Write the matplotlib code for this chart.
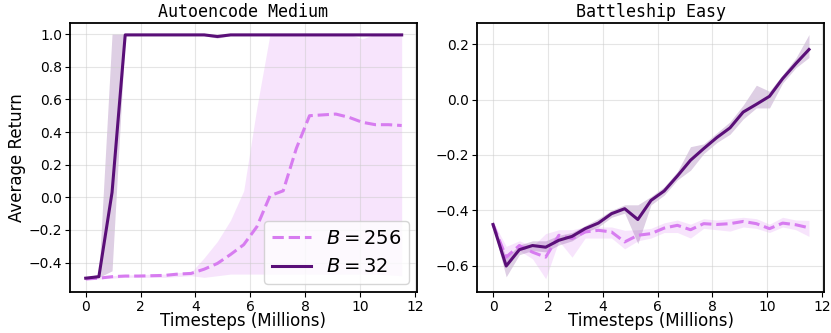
import matplotlib
matplotlib.use("Agg")
import matplotlib.pyplot as plt
import numpy as np

# Timesteps (millions)
steps = [0.0, 0.48, 0.96, 1.44, 1.92, 2.4, 2.88, 3.36, 3.84, 4.32, 4.8, 5.28,
         5.76, 6.24, 6.72, 7.2, 7.68, 8.16, 8.64, 9.12, 9.6, 10.08, 10.56, 11.04, 11.52]

# Autoencode Medium
ae_b32 = [-0.495, -0.486, 0.03, 0.995, 0.995, 0.995, 0.995, 0.995, 0.995, 0.995, 0.985, 0.995,
          0.995, 0.995, 0.995, 0.995, 0.995, 0.995, 0.995, 0.995, 0.995, 0.995, 0.995, 0.995, 0.995]
ae_b32_lo = [-0.50, -0.49, -0.45, 0.99, 0.99, 0.99, 0.99, 0.99, 0.99, 0.99, 0.975, 0.99,
             0.99, 0.99, 0.99, 0.99, 0.99, 0.99, 0.99, 0.99, 0.99, 0.99, 0.99, 0.99, 0.99]
ae_b32_hi = [-0.49, -0.47, 1.0, 1.0, 1.0, 1.0, 1.0, 1.0, 1.0, 1.0, 0.995, 1.0,
             1.0, 1.0, 1.0, 1.0, 1.0, 1.0, 1.0, 1.0, 1.0, 1.0, 1.0, 1.0, 1.0]
ae_b256 = [-0.50, -0.495, -0.486, -0.482, -0.482, -0.48, -0.478, -0.47, -0.466, -0.44, -0.405, -0.35,
           -0.29, -0.18, 0.01, 0.04, 0.30, 0.50, 0.505, 0.51, 0.49, 0.46, 0.445, 0.445, 0.44]
ae_b256_lo = [-0.505, -0.50, -0.495, -0.49, -0.49, -0.49, -0.49, -0.485, -0.48, -0.49, -0.48, -0.47,
              -0.47, -0.47, -0.47, -0.47, -0.47, -0.47, -0.47, -0.47, -0.47, -0.47, -0.47, -0.475, -0.48]
ae_b256_hi = [-0.495, -0.49, -0.48, -0.475, -0.475, -0.47, -0.47, -0.46, -0.46, -0.37, -0.27, -0.14,
              0.04, 0.55, 1.0, 1.0, 1.0, 1.0, 1.0, 1.0, 1.0, 0.97, 1.0, 1.0, 1.0]

# Battleship Easy
bs_b32 = [-0.451, -0.601, -0.542, -0.527, -0.533, -0.508, -0.494, -0.466, -0.446, -0.412, -0.394, -0.433,
          -0.364, -0.330, -0.276, -0.219, -0.177, -0.137, -0.102, -0.045, -0.017, 0.012, 0.076, 0.130, 0.181]
bs_b32_lo = [-0.46, -0.64, -0.56, -0.545, -0.55, -0.525, -0.51, -0.48, -0.46, -0.425, -0.41, -0.52,
             -0.38, -0.345, -0.29, -0.255, -0.195, -0.155, -0.125, -0.07, -0.03, -0.03, 0.06, 0.115, 0.152]
bs_b32_hi = [-0.44, -0.57, -0.525, -0.51, -0.51, -0.49, -0.48, -0.455, -0.43, -0.40, -0.38, -0.38,
             -0.35, -0.315, -0.26, -0.17, -0.16, -0.12, -0.08, -0.02, 0.052, 0.03, 0.09, 0.15, 0.235]
bs_b256 = [-0.451, -0.569, -0.527, -0.551, -0.569, -0.49, -0.502, -0.478, -0.472, -0.478, -0.514, -0.49,
           -0.484, -0.464, -0.454, -0.47, -0.448, -0.451, -0.448, -0.44, -0.448, -0.466, -0.446, -0.452, -0.463]
bs_b256_lo = [-0.46, -0.60, -0.545, -0.575, -0.647, -0.51, -0.569, -0.50, -0.50, -0.50, -0.539, -0.51,
              -0.50, -0.48, -0.48, -0.50, -0.465, -0.47, -0.475, -0.46, -0.465, -0.48, -0.46, -0.47, -0.494]
bs_b256_hi = [-0.44, -0.53, -0.51, -0.53, -0.484, -0.47, -0.47, -0.46, -0.46, -0.46, -0.472, -0.47,
              -0.465, -0.445, -0.435, -0.45, -0.43, -0.435, -0.43, -0.425, -0.43, -0.45, -0.425, -0.435, -0.436]

dark = "#5a0f78"
light = "#d77cf0"

fig, axes = plt.subplots(1, 2, figsize=(8.31, 3.33), dpi=100)
fig.subplots_adjust(left=0.084, right=0.992, top=0.932, bottom=0.123, wspace=0.173)

panels = [
    ("Autoencode Medium", ae_b256, ae_b256_lo, ae_b256_hi, ae_b32, ae_b32_lo, ae_b32_hi, (-0.58, 1.07)),
    ("Battleship Easy", bs_b256, bs_b256_lo, bs_b256_hi, bs_b32, bs_b32_lo, bs_b32_hi, (-0.695, 0.278)),
]

for ax, (title, m256, lo256, hi256, m32, lo32, hi32, ylim) in zip(axes, panels):
    ax.fill_between(steps, lo256, hi256, color=light, alpha=0.2, linewidth=0)
    ax.fill_between(steps, lo32, hi32, color=dark, alpha=0.2, linewidth=0)
    ax.plot(steps, m256, color=light, linestyle="--", linewidth=2.2, label="$B = 256$")
    ax.plot(steps, m32, color=dark, linewidth=2.2, label="$B = 32$")
    ax.set_title(title, family="DejaVu Sans Mono", fontsize=12, pad=4)
    ax.set_xlabel("Timesteps (Millions)", fontsize=12, labelpad=-1)
    ax.set_xlim(-0.58, 12.08)
    ax.set_ylim(*ylim)
    ax.set_xticks([0, 2, 4, 6, 8, 10, 12])
    ax.tick_params(labelsize=10, pad=2)
    ax.grid(True, color="#cccccc", alpha=0.5, linewidth=0.8)
    for s in ax.spines.values():
        s.set_linewidth(1.3)

axes[0].set_ylabel("Average Return", fontsize=12, labelpad=2)
axes[0].legend(loc="lower right", fontsize=14, handlelength=2.0, borderaxespad=0.4)

fig.savefig("out.png", dpi=100)
